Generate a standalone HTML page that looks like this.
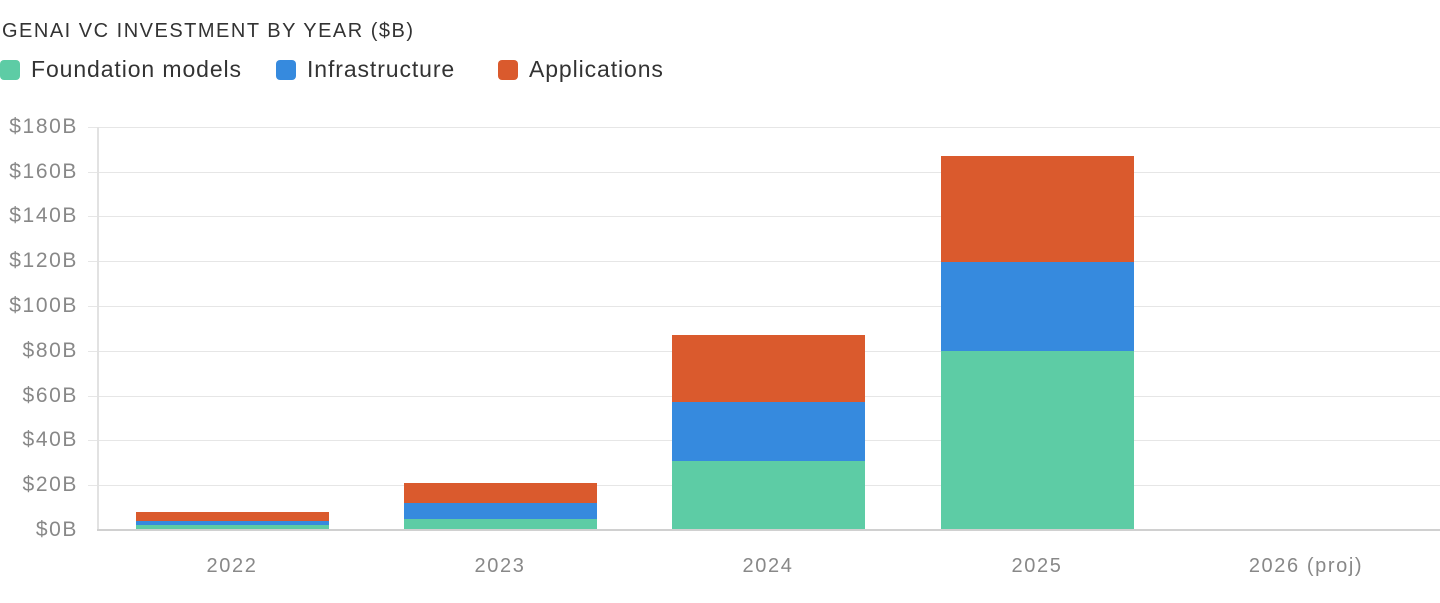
<!DOCTYPE html>
<html><head><meta charset="utf-8"><style>
body{margin:0;width:1440px;height:603px;background:#fff;font-family:"Liberation Sans",Arial,sans-serif;position:relative;overflow:hidden}
.a{position:absolute}
.t{left:2px;top:20px;font-size:20px;letter-spacing:1.5px;color:#333}
.lg{top:56px;font-size:23px;letter-spacing:0.9px;color:#333}
.sw{position:absolute;width:20px;height:20px;border-radius:4px;top:60px}
.g{position:absolute;left:88px;width:1352px;height:1px;background:#e6e6e6}
.yl{position:absolute;right:1362px;font-size:21px;letter-spacing:1.6px;color:#888;text-align:right;white-space:nowrap}
.xl{position:absolute;top:555px;font-size:20px;letter-spacing:1.6px;color:#888;width:200px;text-align:center;white-space:nowrap}
.b{position:absolute;width:193px}
.f{background:#5dcca5}.i{background:#368ade}.p{background:#da5a2d}
</style></head><body>
<div class="a t">GENAI VC INVESTMENT BY YEAR ($B)</div>
<div class="sw f" style="left:0"></div><div class="a lg" style="left:31px">Foundation models</div>
<div class="sw i" style="left:276px"></div><div class="a lg" style="left:307px">Infrastructure</div>
<div class="sw p" style="left:498px"></div><div class="a lg" style="left:529px">Applications</div>

<div class="g" style="top:127px"></div><div class="g" style="top:172px"></div><div class="g" style="top:216px"></div>
<div class="g" style="top:261px"></div><div class="g" style="top:306px"></div><div class="g" style="top:351px"></div>
<div class="g" style="top:396px"></div><div class="g" style="top:440px"></div><div class="g" style="top:485px"></div>
<div class="a" style="left:97px;top:127px;width:2px;height:404px;background:#e2e2e2"></div>

<div class="yl" style="top:115px">$180B</div><div class="yl" style="top:160px">$160B</div><div class="yl" style="top:204px">$140B</div>
<div class="yl" style="top:249px">$120B</div><div class="yl" style="top:294px">$100B</div><div class="yl" style="top:339px">$80B</div>
<div class="yl" style="top:384px">$60B</div><div class="yl" style="top:428px">$40B</div><div class="yl" style="top:473px">$20B</div>
<div class="yl" style="top:518px">$0B</div>

<div class="b p" style="left:136px;top:512px;height:9px"></div>
<div class="b i" style="left:136px;top:521px;height:4px"></div>
<div class="b f" style="left:136px;top:525px;height:5px"></div>

<div class="b p" style="left:404px;top:483px;height:20px"></div>
<div class="b i" style="left:404px;top:503px;height:16px"></div>
<div class="b f" style="left:404px;top:519px;height:11px"></div>

<div class="b p" style="left:672px;top:335px;height:67px"></div>
<div class="b i" style="left:672px;top:402px;height:59px"></div>
<div class="b f" style="left:672px;top:461px;height:69px"></div>

<div class="b p" style="left:941px;top:156px;height:106px"></div>
<div class="b i" style="left:941px;top:262px;height:89px"></div>
<div class="b f" style="left:941px;top:351px;height:179px"></div>

<div class="a" style="left:97px;top:529px;width:1343px;height:2px;background:#d0d0d0"></div>

<div class="xl" style="left:132px">2022</div><div class="xl" style="left:400px">2023</div>
<div class="xl" style="left:668px">2024</div><div class="xl" style="left:937px">2025</div>
<div class="xl" style="left:1206px">2026 (proj)</div>
</body></html>
